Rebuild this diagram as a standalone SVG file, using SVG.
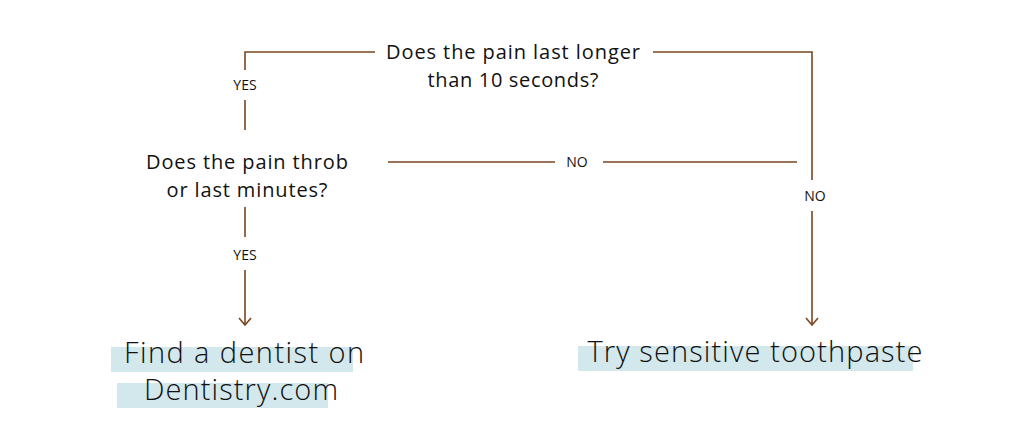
<svg xmlns="http://www.w3.org/2000/svg" width="1024" height="447" viewBox="0 0 1024 447">
<defs>
<style>
.ln{fill:none;stroke:#7a4520;stroke-width:1.6}
.q{font-family:"Open Sans",Lato,sans-serif;font-size:20px;fill:#111111;text-anchor:middle}
.lb{font-family:"Open Sans",Lato,sans-serif;font-size:14px;fill:#111111;text-anchor:middle}
.r{font-family:"Open Sans",Lato,sans-serif;font-size:29px;fill:#111111;font-weight:300;text-anchor:middle}
.hl{fill:#d3e8ec}
</style>
<marker id="ah" markerWidth="10" markerHeight="14" refX="8" refY="7" orient="auto" markerUnits="userSpaceOnUse" viewBox="0 0 10 14">
<path d="M1,1 L8,7 L1,13" fill="none" stroke="#7a4520" stroke-width="1.6"/>
</marker>
</defs>
<rect width="1024" height="447" fill="#ffffff"/>
<g id="connectors">
<path class="ln" d="M245,70 V52 H375"/>
<line class="ln" x1="245" y1="100" x2="245" y2="130"/>
<path class="ln" d="M653,52 H812 V180"/>
<line class="ln" x1="812" y1="211" x2="812" y2="325" marker-end="url(#ah)"/>
<line class="ln" x1="388" y1="162" x2="555" y2="162"/>
<line class="ln" x1="603" y1="162" x2="797" y2="162"/>
<line class="ln" x1="245" y1="207" x2="245" y2="237"/>
<line class="ln" x1="245" y1="270" x2="245" y2="325" marker-end="url(#ah)"/>
<text class="lb" x="245" y="90">YES</text>
<text class="lb" x="245" y="260">YES</text>
<text class="lb" x="577" y="167">NO</text>
<text class="lb" x="815" y="201">NO</text>
</g>
<g id="q1">
<text class="q" x="513" y="59" textLength="254">Does the pain last longer</text>
<text class="q" x="513" y="87" textLength="171">than 10 seconds?</text>
</g>
<g id="q2">
<text class="q" x="247" y="169" textLength="202">Does the pain throb</text>
<text class="q" x="247" y="197" textLength="161">or last minutes?</text>
</g>
<g id="dentist">
<rect class="hl" x="111" y="347" width="242" height="25"/>
<rect class="hl" x="117" y="383" width="211" height="25"/>
<text class="r" x="244" y="363" textLength="240">Find a dentist on</text>
<text class="r" x="241" y="400" textLength="194">Dentistry.com</text>
</g>
<g id="toothpaste">
<rect class="hl" x="578" y="346" width="335" height="25"/>
<text class="r" x="755" y="362" textLength="335">Try sensitive toothpaste</text>
</g>
</svg>
